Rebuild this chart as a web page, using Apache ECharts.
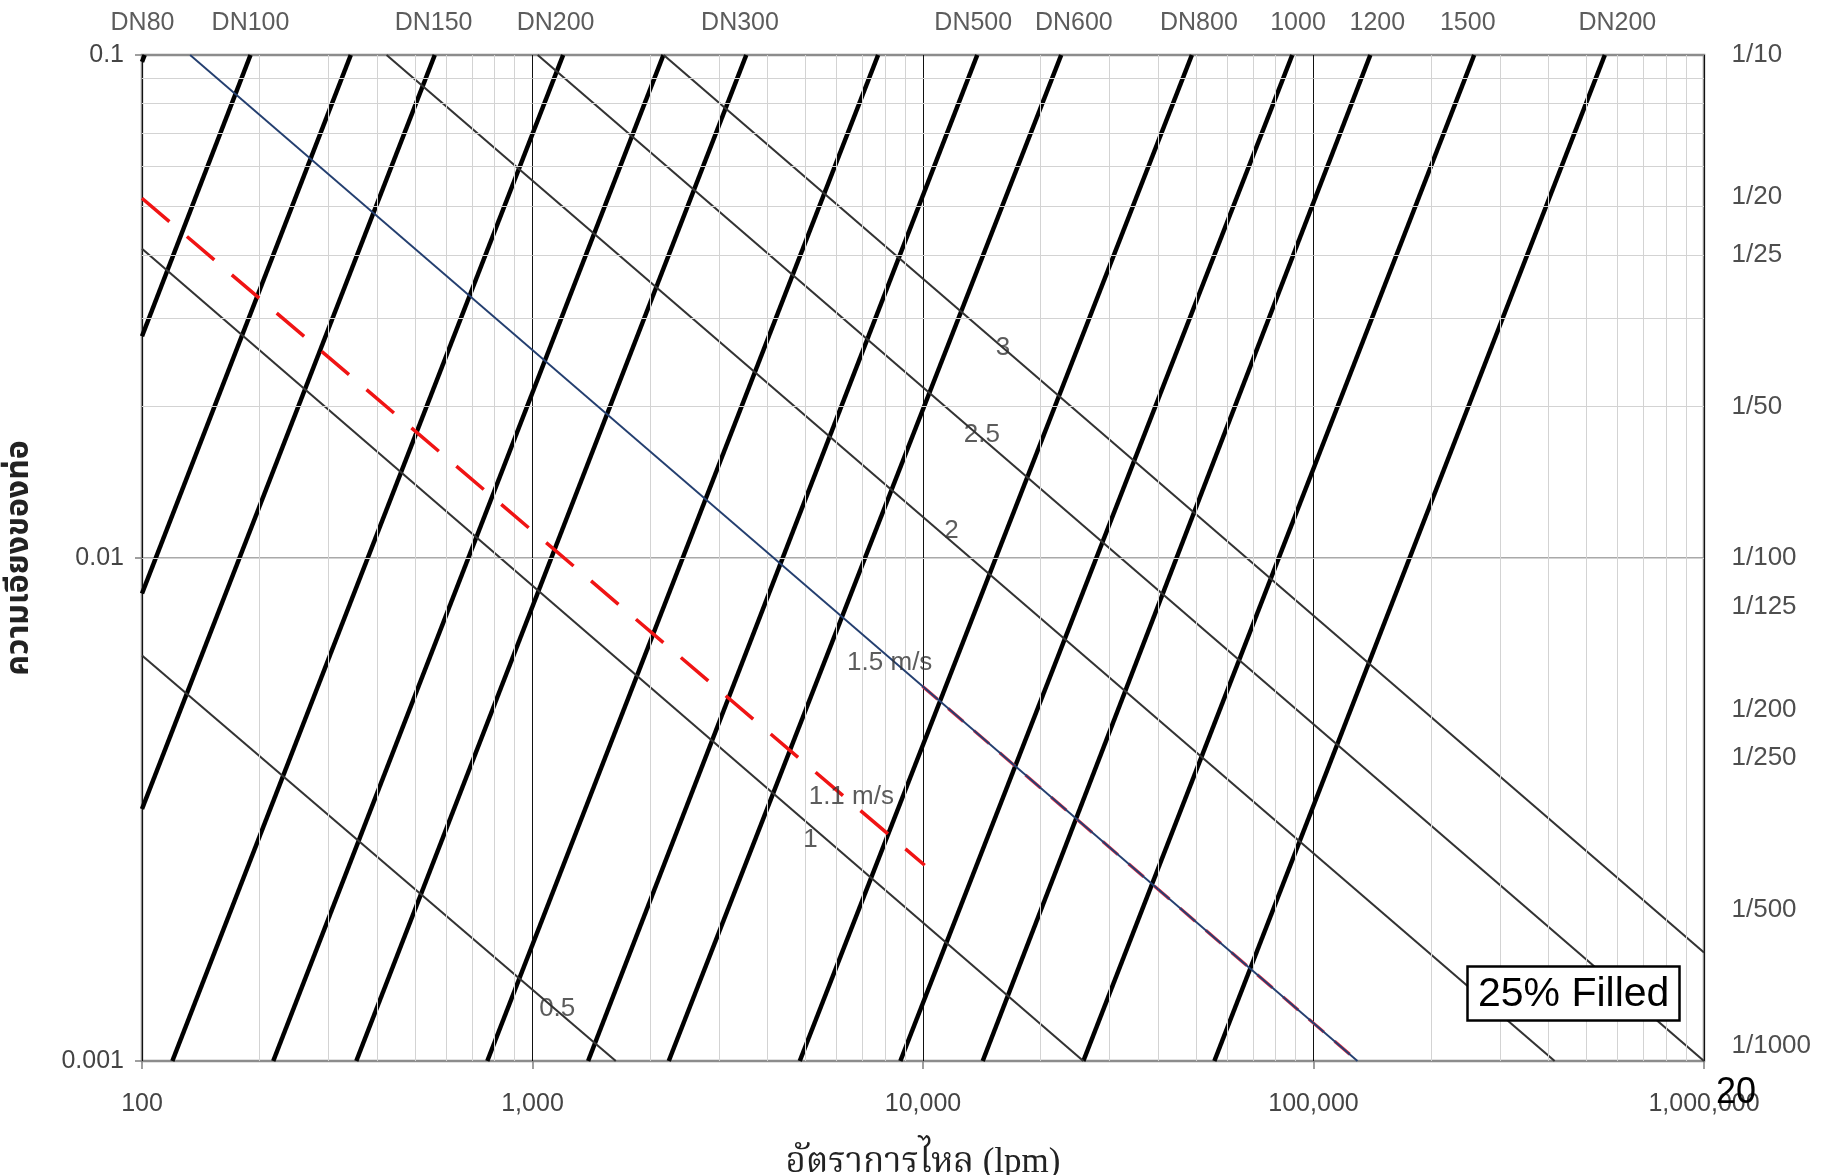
<!DOCTYPE html>
<html><head><meta charset="utf-8">
<script src="https://cdn.jsdelivr.net/npm/echarts/dist/echarts.min.js"></script>
<style>html,body{margin:0;padding:0;background:#fff}#c{width:1829px;height:1175px}</style>
</head><body><div id="c"></div>
<script>
// ---- data ----
// pipe-size lines (thick): upper end at S = 0.1, lower end at (lowQ, lowS)
const pipeTopQ = [101.6, 189.6, 342.5, 562, 1198, 2164, 3527, 7674, 13770, 22590, 48810, 88230, 139800, 257900, 557200];
const pipeLowQ = [100, 100, 100, 100, 119.6, 216.8, 353.8, 766, 1388, 2233, 4835, 8750, 14220, 25740, 55740];
const pipeLowS = [0.0969, 0.0276, 0.0085, 0.00317, 0.001, 0.001, 0.001, 0.001, 0.001, 0.001, 0.001, 0.001, 0.001, 0.001, 0.001];
// pipe labels along the top
const pipeLabels = ['DN80', 'DN100', 'DN150', 'DN200', 'DN300', 'DN500', 'DN600', 'DN800', '1000', '1200', '1500', 'DN200'];
const pipeLabelQ = [100.3, 189.6, 558, 1146, 3399, 13450, 24340, 50880, 91270, 145700, 248300, 599800];
// velocity lines (thin): start / end points
const velNames = ['0.5', '1', '1.5', '2', '2.5', '3'];
const velStartQ = [100, 100, 132.8, 423, 1031, 2167];
const velStartS = [0.0064, 0.0412, 0.1, 0.1, 0.1, 0.1];
const velEndQ = [1634, 25740, 129600, 414500, 1000000, 1000000];
const velEndS = [0.001, 0.001, 0.001, 0.001, 0.001, 0.001643];
// 1.1 m/s red dashed line, and its red continuation under the 1.5 m/s line
const redQ = [100, 10100];
const redS = [0.0519, 0.00245];
const redTailQ = [9966, 129600];
const redTailS = [0.00556, 0.001];
// velocity labels
const velLabelText = ['0.5', '1', '1.1 m/s', '1.5 m/s', '2', '2.5', '3'];
const velLabelQ = [1157, 5147, 6552, 8219, 11836, 14156, 16020];
const velLabelS = [0.00127, 0.002756, 0.003357, 0.0062, 0.01134, 0.01756, 0.0262];
// right-hand slope labels
const slopeText = ['1/10', '1/20', '1/25', '1/50', '1/100', '1/125', '1/200', '1/250', '1/500', '1/1000'];
const slopeValue = [0.1, 0.05, 0.04, 0.02, 0.01, 0.008, 0.005, 0.004, 0.002, 0.001];
// minor grid multipliers
const minorMult = [2, 3, 4, 5, 6, 7, 8, 9];

const FONT = "'Liberation Sans', Arial, sans-serif";
const series = [];

// minor log grid
const minorX = [], minorY = [];
for (let d = 2; d < 6; d++) minorMult.forEach(m => minorX.push(m * Math.pow(10, d)));
for (let d = -3; d < -1; d++) minorMult.forEach(m => minorY.push(+(m * Math.pow(10, d)).toPrecision(3)));
series.push({
  type: 'line', z: 1, silent: true, symbol: 'none', data: [[100, 0.1]],
  lineStyle: { width: 0 },
  markLine: {
    silent: true, symbol: ['none', 'none'], label: { show: false }, animation: false,
    lineStyle: { color: '#d3d3d3', width: 1, type: 'solid' },
    data: minorX.map(v => ({ xAxis: v })).concat(minorY.map(v => ({ yAxis: v })))
  }
});

// pipe lines
pipeTopQ.forEach((q, i) => {
  series.push({
    type: 'line', z: 3, silent: true, symbol: 'none',
    lineStyle: { color: '#000', width: 4.5, cap: 'butt' },
    data: [[q, 0.1], [pipeLowQ[i], pipeLowS[i]]]
  });
});

// velocity lines
velNames.forEach((n, i) => {
  const blue = n === '1.5';
  series.push({
    type: 'line', z: blue ? 6 : 4, silent: true, symbol: 'none', name: n,
    lineStyle: { color: blue ? '#243f70' : '#333', width: blue ? 1.9 : 2.1 },
    data: [[velStartQ[i], velStartS[i]], [velEndQ[i], velEndS[i]]]
  });
});

// red 1.1 m/s
series.push({
  type: 'line', z: 5, silent: true, symbol: 'none',
  lineStyle: { color: '#f01414', width: 3.5, type: [36, 23], cap: 'butt' },
  data: redQ.map((q, i) => [q, redS[i]])
});
series.push({
  type: 'line', z: 5, silent: true, symbol: 'none',
  lineStyle: { color: '#e0304a', width: 3.2, type: [20, 14] },
  data: redTailQ.map((q, i) => [q, redTailS[i]])
});

// velocity labels
series.push({
  type: 'scatter', z: 10, clip: false, silent: true, symbolSize: 1,
  itemStyle: { color: 'rgba(0,0,0,0)' },
  label: { show: true, position: 'inside', formatter: '{b}', color: '#333', fontSize: 26, fontFamily: FONT },
  data: velLabelText.map((t, i) => ({ name: t, value: [velLabelQ[i], velLabelS[i]] }))
});
// top pipe labels
series.push({
  type: 'scatter', z: 10, clip: false, silent: true, symbolSize: 1,
  itemStyle: { color: 'rgba(0,0,0,0)' },
  label: { show: true, position: 'top', distance: 19, formatter: '{b}', color: '#333', fontSize: 25, fontFamily: FONT },
  data: pipeLabels.map((t, i) => ({ name: t, value: [pipeLabelQ[i], 0.1] }))
});
// right slope labels
series.push({
  type: 'scatter', z: 10, clip: false, silent: true, symbolSize: 1,
  itemStyle: { color: 'rgba(0,0,0,0)' },
  label: { show: true, position: 'right', distance: 27, formatter: '{b}', color: '#222', fontSize: 26, fontFamily: FONT },
  data: slopeText.map((t, i) => {
    const o = { name: t, value: [1000000, slopeValue[i]] };
    if (t === '1/20') o.label = { offset: [0, -10] };
    if (t === '1/1000') o.label = { offset: [0, -15] };
    return o;
  })
});

const chart = echarts.init(document.getElementById('c'), null, { renderer: 'canvas' });
chart.setOption({
  animation: false,
  backgroundColor: '#fff',
  title: [
    {
      text: '25% Filled', left: 1467, top: 966, backgroundColor: '#fff',
      borderColor: '#000', borderWidth: 2.5, padding: [8, 10, 6, 11],
      textStyle: { fontSize: 41, fontWeight: 'normal', color: '#000', fontFamily: FONT }
    },
    {
      text: '20', left: 1711, top: 1070,
      textStyle: { fontSize: 36, fontWeight: 'normal', color: '#000', fontFamily: FONT }
    }
  ],
  grid: {
    left: 142, top: 55, width: 1562, height: 1006, containLabel: false, outerBoundsMode: 'none',
    show: true, borderColor: '#8a8a8a', borderWidth: 2.5, backgroundColor: 'transparent'
  },
  xAxis: {
    type: 'log', logBase: 10, min: 100, max: 1000000,
    name: 'อัตราการไหล (lpm)', nameLocation: 'middle', nameGap: 84,
    nameTextStyle: { fontSize: 35, color: '#222', fontFamily: "'Liberation Serif', 'Noto Serif Thai', serif" },
    axisLine: { show: false },
    axisTick: { show: true, length: 8, lineStyle: { color: '#808080', width: 1.5 } },
    axisLabel: {
      margin: 31, fontSize: 25, color: '#444', fontFamily: FONT, showMinLabel: true, showMaxLabel: true,
      formatter: v => String(Math.round(v)).replace(/\B(?=(\d{3})+(?!\d))/g, ',')
    },
    splitLine: { show: true, lineStyle: { color: '#111', width: 1 } }
  },
  yAxis: {
    type: 'log', logBase: 10, min: 0.001, max: 0.1,
    name: 'ความเอียงของท่อ', nameLocation: 'middle', nameGap: 104, nameRotate: 90,
    nameTextStyle: { fontSize: 32, fontWeight: 'bold', color: '#222', fontFamily: "'Noto Sans Thai', 'Noto Sans', 'DejaVu Sans', sans-serif" },
    axisLine: { show: false },
    axisTick: { show: true, length: 7, lineStyle: { color: '#808080', width: 1.5 } },
    axisLabel: {
      margin: 18, fontSize: 25, color: '#444', fontFamily: FONT, showMinLabel: true, showMaxLabel: true,
      formatter: v => String(+Number(v).toPrecision(2))
    },
    splitLine: { show: true, lineStyle: { color: '#8c8c8c', width: 1.5 } }
  },
  series: series
});
</script></body></html>
